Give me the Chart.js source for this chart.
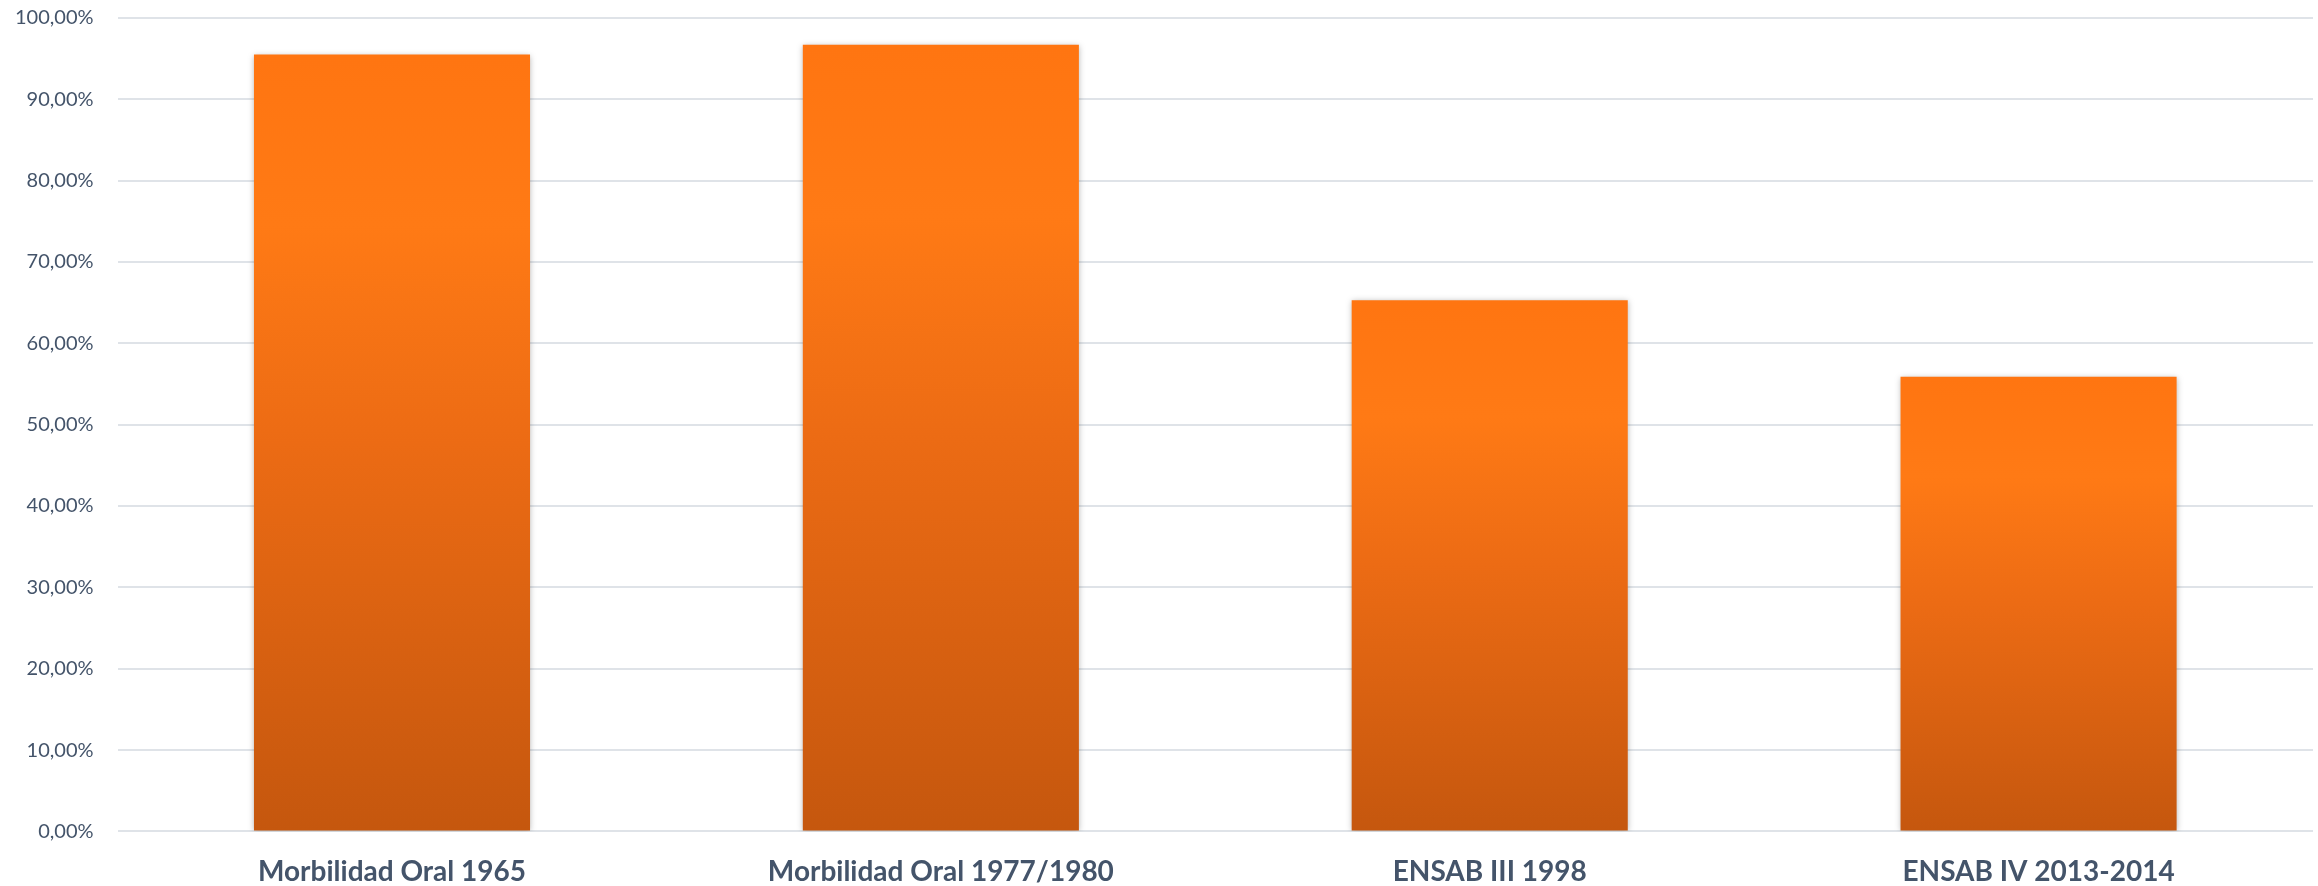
<!DOCTYPE html>
<html>
<head>
<meta charset="utf-8">
<script src="https://cdn.jsdelivr.net/npm/chart.js@4/dist/chart.umd.min.js"></script>
<style>
  html, body { margin: 0; padding: 0; background: #ffffff; overflow: hidden; }
  #frame { position: relative; width: 2318px; height: 886px; overflow: hidden; }
  #wrap { position: absolute; left: -19px; top: -18px; width: 2337px; height: 904px; }
</style>
</head>
<body>
<div id="frame"><div id="wrap"><canvas id="c"></canvas></div></div>
<script>
// Survey periods and the share of the population affected (percent)
const categories = ['Morbilidad Oral 1965', 'Morbilidad Oral 1977/1980', 'ENSAB III 1998', 'ENSAB IV 2013-2014'];
const prevalence = [95.5, 96.7, 65.3, 55.9];
const yTicks = [0, 10, 20, 30, 40, 50, 60, 70, 80, 90, 100];

const fmtPct = v => v.toFixed(2).replace('.', ',') + '%';

// Vertical orange gradient running from each bar's top to the baseline
function barGradient(ctx) {
  const chart = ctx.chart;
  const area = chart.chartArea;
  if (!area || ctx.type !== 'data') return '#f06f12';
  const y = chart.scales.y;
  const top = y.getPixelForValue(ctx.raw);
  const base = y.getPixelForValue(0);
  const g = chart.ctx.createLinearGradient(0, top, 0, base);
  g.addColorStop(0, '#ff7511');
  g.addColorStop(0.22, '#ff7a15');
  g.addColorStop(0.5, '#ec6b14');
  g.addColorStop(1, '#c5570e');
  return g;
}

// Soft drop shadow around the bars
const barShadow = {
  id: 'barShadow',
  beforeDatasetsDraw(chart) {
    const c = chart.ctx;
    c.save();
    c.shadowColor = 'rgba(0,0,0,0.28)';
    c.shadowBlur = 6;
    c.shadowOffsetX = 0;
    c.shadowOffsetY = 1;
  },
  afterDatasetsDraw(chart) {
    chart.ctx.restore();
  }
};

new Chart(document.getElementById('c'), {
  type: 'bar',
  data: {
    labels: categories,
    datasets: [{
      data: prevalence,
      backgroundColor: barGradient,
      borderWidth: 0,
      barPercentage: 0.503,
      categoryPercentage: 1.0
    }]
  },
  options: {
    responsive: true,
    maintainAspectRatio: false,
    animation: false,
    layout: { padding: { left: 10, right: 5, top: 0, bottom: -27 } },
    plugins: {
      legend: { display: false },
      tooltip: { enabled: false }
    },
    scales: {
      x: {
        grid: { display: false, drawTicks: false },
        border: { display: false },
        ticks: {
          padding: 24,
          color: '#44546a',
          font: { family: 'Lato', size: 28, weight: 'bold' }
        }
      },
      y: {
        min: 0,
        max: 100,
        afterBuildTicks(axis) { axis.ticks = yTicks.map(v => ({ value: v })); },
        grid: { color: '#dfe3e8', lineWidth: 2, drawTicks: false },
        border: { display: false },
        ticks: {
          padding: 24,
          color: '#44546a',
          font: { family: 'Lato', size: 20 },
          callback: v => fmtPct(v)
        }
      }
    }
  },
  plugins: [barShadow]
});
</script>
</body>
</html>
